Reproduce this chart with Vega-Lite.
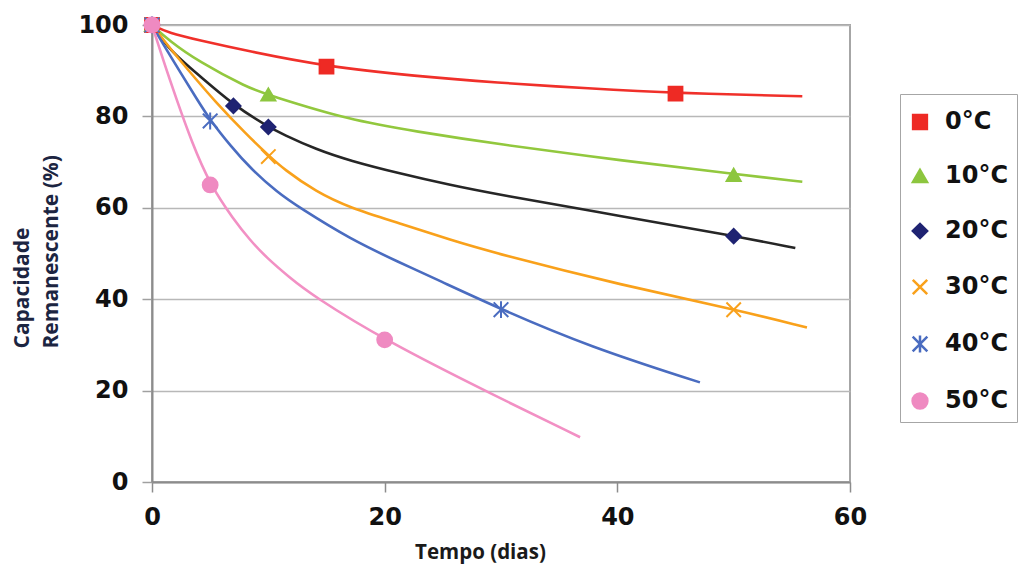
{
  "$schema": "https://vega.github.io/schema/vega-lite/v6.json",
  "width": 698,
  "height": 457,
  "autosize": {"type": "none"},
  "padding": {"left": 152, "top": 25, "right": 170, "bottom": 83},
  "background": "white",
  "config": {"view": {"stroke": "#a6a6a6", "strokeWidth": 2}, "font": "DejaVu Sans"},
  "datasets": {
    "curvas": [
      {"curva": "0°C", "dias": 0, "cap": 100}, {"curva": "0°C", "dias": 1.5, "cap": 98.2}, {"curva": "0°C", "dias": 4, "cap": 96.7}, {"curva": "0°C", "dias": 8.2, "cap": 94.3}, {"curva": "0°C", "dias": 15, "cap": 90.9}, {"curva": "0°C", "dias": 22.7, "cap": 88.8}, {"curva": "0°C", "dias": 29.5, "cap": 87.4}, {"curva": "0°C", "dias": 37.6, "cap": 86.1}, {"curva": "0°C", "dias": 45, "cap": 85.1}, {"curva": "0°C", "dias": 55.9, "cap": 84.4},
      {"curva": "10°C", "dias": 0, "cap": 100}, {"curva": "10°C", "dias": 1.5, "cap": 96.5}, {"curva": "10°C", "dias": 4, "cap": 92.0}, {"curva": "10°C", "dias": 8.2, "cap": 86.3}, {"curva": "10°C", "dias": 10, "cap": 84.7}, {"curva": "10°C", "dias": 17, "cap": 79.2}, {"curva": "10°C", "dias": 22.7, "cap": 76.7}, {"curva": "10°C", "dias": 29.5, "cap": 74.0}, {"curva": "10°C", "dias": 40.5, "cap": 70.3}, {"curva": "10°C", "dias": 50, "cap": 67.4}, {"curva": "10°C", "dias": 55.9, "cap": 65.7},
      {"curva": "20°C", "dias": 0, "cap": 100}, {"curva": "20°C", "dias": 1.5, "cap": 94.5}, {"curva": "20°C", "dias": 4, "cap": 89.1}, {"curva": "20°C", "dias": 7, "cap": 82.5}, {"curva": "20°C", "dias": 9.8, "cap": 78.0}, {"curva": "20°C", "dias": 11.3, "cap": 76.0}, {"curva": "20°C", "dias": 14.1, "cap": 72.8}, {"curva": "20°C", "dias": 17, "cap": 70.3}, {"curva": "20°C", "dias": 21.3, "cap": 67.5}, {"curva": "20°C", "dias": 25.6, "cap": 65.0}, {"curva": "20°C", "dias": 29.5, "cap": 63.0}, {"curva": "20°C", "dias": 40.5, "cap": 58.1}, {"curva": "20°C", "dias": 49.9, "cap": 53.9}, {"curva": "20°C", "dias": 55.3, "cap": 51.2},
      {"curva": "30°C", "dias": 0, "cap": 100}, {"curva": "30°C", "dias": 1.5, "cap": 95.0}, {"curva": "30°C", "dias": 4, "cap": 87.5}, {"curva": "30°C", "dias": 5.24, "cap": 83.8}, {"curva": "30°C", "dias": 8.2, "cap": 75.8}, {"curva": "30°C", "dias": 10.1, "cap": 71.3}, {"curva": "30°C", "dias": 11.3, "cap": 68.5}, {"curva": "30°C", "dias": 14.1, "cap": 63.5}, {"curva": "30°C", "dias": 17, "cap": 60.0}, {"curva": "30°C", "dias": 21.3, "cap": 56.6}, {"curva": "30°C", "dias": 25.6, "cap": 53.0}, {"curva": "30°C", "dias": 29.6, "cap": 50.0}, {"curva": "30°C", "dias": 40.5, "cap": 43.0}, {"curva": "30°C", "dias": 50, "cap": 37.8}, {"curva": "30°C", "dias": 56.3, "cap": 33.8},
      {"curva": "40°C", "dias": 0, "cap": 100}, {"curva": "40°C", "dias": 1.5, "cap": 93.5}, {"curva": "40°C", "dias": 4, "cap": 83.2}, {"curva": "40°C", "dias": 5, "cap": 79.2}, {"curva": "40°C", "dias": 6.8, "cap": 73.4}, {"curva": "40°C", "dias": 8.4, "cap": 68.8}, {"curva": "40°C", "dias": 10.8, "cap": 63.3}, {"curva": "40°C", "dias": 12.7, "cap": 60.0}, {"curva": "40°C", "dias": 17, "cap": 53.2}, {"curva": "40°C", "dias": 21.3, "cap": 48.0}, {"curva": "40°C", "dias": 24.5, "cap": 44.3}, {"curva": "40°C", "dias": 30, "cap": 37.8}, {"curva": "40°C", "dias": 37.6, "cap": 29.6}, {"curva": "40°C", "dias": 47.1, "cap": 21.8},
      {"curva": "50°C", "dias": 0, "cap": 100}, {"curva": "50°C", "dias": 1, "cap": 92.0}, {"curva": "50°C", "dias": 2.1, "cap": 83.8}, {"curva": "50°C", "dias": 3.4, "cap": 74.5}, {"curva": "50°C", "dias": 5, "cap": 65.0}, {"curva": "50°C", "dias": 7, "cap": 57.5}, {"curva": "50°C", "dias": 8.4, "cap": 53.0}, {"curva": "50°C", "dias": 9.8, "cap": 49.2}, {"curva": "50°C", "dias": 11.8, "cap": 44.8}, {"curva": "50°C", "dias": 13.8, "cap": 40.8}, {"curva": "50°C", "dias": 20, "cap": 31.0}, {"curva": "50°C", "dias": 29.6, "cap": 18.7}, {"curva": "50°C", "dias": 36.8, "cap": 9.8}
    ],
    "pontos": [
      {"serie": "0°C", "dias": 0, "cap": 100}, {"serie": "10°C", "dias": 0, "cap": 100}, {"serie": "20°C", "dias": 0, "cap": 100}, {"serie": "30°C", "dias": 0, "cap": 100}, {"serie": "40°C", "dias": 0, "cap": 100}, {"serie": "50°C", "dias": 0, "cap": 100},
      {"serie": "0°C", "dias": 15, "cap": 90.9}, {"serie": "0°C", "dias": 45, "cap": 85.0},
      {"serie": "10°C", "dias": 10, "cap": 84.8}, {"serie": "10°C", "dias": 50, "cap": 67.2},
      {"serie": "20°C", "dias": 7, "cap": 82.3}, {"serie": "20°C", "dias": 10, "cap": 77.7}, {"serie": "20°C", "dias": 50, "cap": 53.8},
      {"serie": "30°C", "dias": 10, "cap": 71.2}, {"serie": "30°C", "dias": 50, "cap": 37.7},
      {"serie": "40°C", "dias": 5, "cap": 79.0}, {"serie": "40°C", "dias": 30, "cap": 37.7},
      {"serie": "50°C", "dias": 5, "cap": 65.0}, {"serie": "50°C", "dias": 20, "cap": 31.1}
    ]
  },
  "encoding": {
    "x": {
      "field": "dias", "type": "quantitative",
      "scale": {"domain": [0, 60], "nice": false, "zero": true},
      "axis": {
        "values": [0, 20, 40, 60], "grid": false, "title": "Tempo (dias)",
        "domainColor": "#8c8c8c", "domainWidth": 2, "tickColor": "#8c8c8c", "tickWidth": 1.5, "tickSize": 10,
        "labelFont": "DejaVu Sans", "labelFontSize": 24, "labelFontWeight": "bold", "labelColor": "#111111",
        "labelPadding": 13, "labelFlush": false, "labelOverlap": false,
        "titleFont": "Open Sans", "titleFontSize": 20.5, "titleFontWeight": "bold", "titleColor": "#1a1a1a",
        "titleX": 328, "titleY": 76, "titleBaseline": "alphabetic", "titleAlign": "center"
      }
    },
    "y": {
      "field": "cap", "type": "quantitative",
      "scale": {"domain": [0, 100], "nice": false},
      "axis": {
        "values": [0, 20, 40, 60, 80, 100], "grid": true, "gridColor": "#b8b8b8", "gridWidth": 1.5,
        "title": ["Capacidade", "Remanescente (%)"],
        "domainColor": "#8c8c8c", "domainWidth": 2, "tickColor": "#a0a0a0", "tickWidth": 1.5, "tickSize": 10,
        "labelFont": "DejaVu Sans", "labelFontSize": 24, "labelFontWeight": "bold", "labelColor": "#111111",
        "labelPadding": 14, "labelOverlap": false,
        "titleFont": "Open Sans", "titleFontSize": 21, "titleFontWeight": "bold", "titleColor": "#1c2541",
        "titleAngle": -90, "titleAlign": "left", "titleBaseline": "top", "titleLineHeight": 29,
        "titleX": -141, "titleY": 323
      }
    }
  },
  "layer": [
    {
      "data": {"name": "curvas"},
      "mark": {"type": "line", "interpolate": "basis", "strokeWidth": 2.6},
      "encoding": {
        "color": {
          "field": "curva", "type": "nominal", "legend": null,
          "scale": {"range": ["#f0302a", "#92c83e", "#262626", "#f9a11b", "#4a6cc0", "#f290c4"]}
        }
      }
    },
    {
      "data": {"name": "pontos"},
      "mark": {"type": "point", "filled": true, "opacity": 1, "strokeWidth": 2},
      "encoding": {
        "fill": {
          "field": "serie", "type": "nominal",
          "scale": {"domain": ["0°C", "10°C", "20°C", "30°C", "40°C", "50°C"], "range": ["#ee2a24", "#8dc63f", "#1f2372", "#f9a11b", "#4a6cc0", "#ef8ac1"]},
          "legend": {
            "orient": "none", "legendX": 748, "legendY": 69, "title": " ", "titleFontSize": 6, "titlePadding": 2,
            "labelFont": "DejaVu Sans", "labelFontSize": 24, "labelFontWeight": "bold", "labelColor": "#111111",
            "labelOffset": 13, "padding": 8, "rowPadding": 30, "strokeColor": "#a6a6a6",
            "symbolStrokeWidth": 2.5, "symbolOpacity": 1
          }
        },
        "stroke": {
          "field": "serie", "type": "nominal",
          "scale": {"domain": ["0°C", "10°C", "20°C", "30°C", "40°C", "50°C"], "range": ["#ee2a24", "#8dc63f", "#1f2372", "#f9a11b", "#4a6cc0", "#ef8ac1"]}
        },
        "shape": {
          "field": "serie", "type": "nominal",
          "scale": {"domain": ["0°C", "10°C", "20°C", "30°C", "40°C", "50°C"], "range": ["square", "triangle-up", "diamond", "M-1,-1L1,1M-1,1L1,-1", "M-1,-1L1,1M-1,1L1,-1M0,-1.15L0,1.15", "circle"]}
        },
        "size": {
          "field": "serie", "type": "nominal",
          "scale": {"domain": ["0°C", "10°C", "20°C", "30°C", "40°C", "50°C"], "range": [190, 220, 210, 330, 240, 300]}
        }
      }
    }
  ]
}
